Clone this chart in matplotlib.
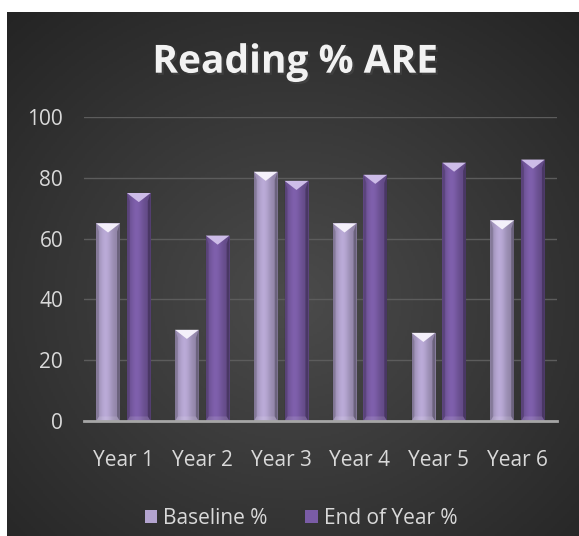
import numpy as np
import matplotlib.pyplot as plt
from matplotlib.patches import Polygon
import matplotlib.patheffects as pe

# data
years = ["Year 1", "Year 2", "Year 3", "Year 4", "Year 5", "Year 6"]
baseline = [65, 30, 82, 65, 29, 66]
end_of_year = [75, 61, 79, 81, 85, 86]
series_names = ["Baseline %", "End of Year %"]

plt.rcParams['font.family'] = ['Open Sans', 'DejaVu Sans']

fig = plt.figure(figsize=(5.79, 5.36), dpi=100)
fig.patch.set_facecolor('white')

# dark panel with radial shading
bg = fig.add_axes([7 / 579, 0, 572 / 579, 524 / 536])
yy, xx = np.mgrid[0:1:262j, 0:1:286j]
r = np.sqrt(((xx - 0.5) / 0.75) ** 2 + ((yy - 0.45) / 0.75) ** 2)
shade = np.clip(0.294 - 0.154 * r, 0.13, 1)
bg.imshow(np.dstack([shade] * 3), extent=[0, 1, 0, 1], aspect='auto', origin='lower')
bg.axis('off')

ax = fig.add_axes([84 / 579, 115 / 536, 473 / 579, 304 / 536])
ax.set_facecolor('none')

x = np.arange(len(years))
w = 0.30
off = 0.195
colors = ['#b3a4cf', '#7a5ca6']
bevel_colors = ['#f4f0fa', '#cdbce8']

bars1 = ax.bar(x - off, baseline, w, color=colors[0], label=series_names[0], zorder=3)
bars2 = ax.bar(x + off, end_of_year, w, color=colors[1], label=series_names[1], zorder=3)


def shade_bar(patch, base, bevel):
    # horizontal gradient clipped to the bar + a chevron bevel on top
    x0, y0 = patch.get_x(), patch.get_y()
    bw, bh = patch.get_width(), patch.get_height()
    t = np.linspace(0, 1, 40)
    f = 0.80 + 0.24 * np.exp(-((t - 0.4) / 0.3) ** 2)
    rgb = np.array(plt.matplotlib.colors.to_rgb(base))
    img = np.clip(rgb[None, :] * f[:, None], 0, 1)[None, :, :]
    im = ax.imshow(img, extent=[x0, x0 + bw, y0, y0 + bh], aspect='auto', zorder=3.5)
    im.set_clip_path(patch)
    h = 3.0
    ax.add_patch(Polygon([(x0, y0 + bh), (x0 + bw, y0 + bh), (x0 + bw / 2, y0 + bh - h)],
                         closed=True, color=bevel, zorder=4, lw=0))
    ax.add_patch(Polygon([(x0, y0 + bh), (x0 + bw * 0.12, y0 + bh - h * 0.9),
                          (x0 + bw * 0.12, y0 + 1.5), (x0, y0)],
                         closed=True, color='black', alpha=0.14, zorder=4, lw=0))
    ax.add_patch(Polygon([(x0 + bw, y0 + bh), (x0 + bw * 0.88, y0 + bh - h * 0.9),
                          (x0 + bw * 0.88, y0 + 1.5), (x0 + bw, y0)],
                         closed=True, color='black', alpha=0.25, zorder=4, lw=0))
    ax.add_patch(Polygon([(x0 + bw * 0.12, y0 + 1.5), (x0 + bw * 0.88, y0 + 1.5),
                          (x0 + bw, y0), (x0, y0)],
                         closed=True, color='white', alpha=0.12, zorder=4, lw=0))


for p in bars1:
    shade_bar(p, colors[0], bevel_colors[0])
for p in bars2:
    shade_bar(p, colors[1], bevel_colors[1])

ax.set_xlim(-0.5, len(years) - 0.5)
ax.set_ylim(0, 100)

ax.set_yticks(range(0, 101, 20))
ax.set_xticks(x)
ax.set_xticklabels(years)
ax.yaxis.grid(True, color='#5c5c5c', lw=1)
ax.set_axisbelow(True)
for s in ['top', 'right', 'left']:
    ax.spines[s].set_visible(False)
ax.spines['bottom'].set_color('#a6a6a6')
ax.spines['bottom'].set_linewidth(2)
ax.spines['bottom'].set_zorder(5)
ax.tick_params(axis='both', length=0, labelsize=15, labelcolor='#d9d9d9')
ax.tick_params(axis='y', pad=15)
ax.tick_params(axis='x', pad=21)

fig.text(295 / 579, (536 - 72.7) / 536, "Reading % ARE", ha='center', va='baseline',
         fontsize=28, fontweight='bold', color='#f2f2f2',
         path_effects=[pe.withSimplePatchShadow(offset=(1.5, -1.5), alpha=0.6)])

ax.legend(loc='center', bbox_to_anchor=(301 / 579, 18 / 536), bbox_transform=fig.transFigure,
          ncol=2, frameon=False, fontsize=15, labelcolor='#d9d9d9',
          handlelength=0.6, handleheight=0.6, columnspacing=1.8, handletextpad=0.3)

fig.savefig('out.png', dpi=100)
